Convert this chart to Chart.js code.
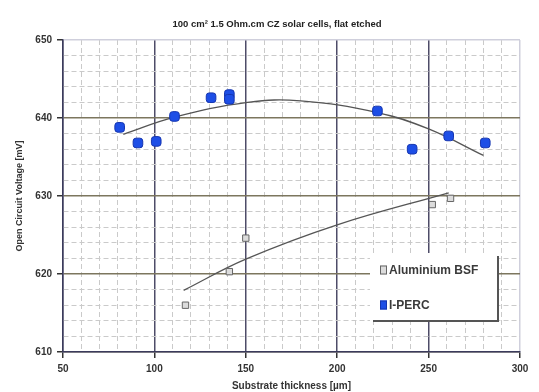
<!DOCTYPE html>
<html>
<head>
<meta charset="utf-8">
<script src="https://cdn.jsdelivr.net/npm/chart.js@4.4.1/dist/chart.umd.min.js"></script>
<style>
html,body{margin:0;padding:0;background:#fff;}
#wrap{width:539px;height:392px;}
</style>
</head>
<body>
<div id="wrap"><canvas id="vocChart" width="539" height="392"></canvas></div>
<script>
// measured cells
const percThickness = [81, 91, 101, 111, 131, 141, 141, 222, 241, 261, 281];
const percVoc = [638.8, 636.8, 637.0, 640.2, 642.6, 643.0, 642.4, 640.9, 636.0, 637.7, 636.8];
const bsfThickness = [117, 141, 150, 252, 262];
const bsfVoc = [616.0, 620.3, 624.6, 628.9, 629.7];
// trendlines
const percTrendX = [83, 111, 151, 180, 222, 250, 280];
const percTrendY = [637.9, 640.1, 642.0, 642.2, 640.7, 638.6, 635.2];
const bsfTrendX = [116, 150, 200, 261];
const bsfTrendY = [617.9, 621.9, 626.3, 630.4];
const xTicks = [50, 100, 150, 200, 250, 300];
const yTicks = [610, 620, 630, 640, 650];

const chartTitle = "100 cm\u00b2 1.5 Ohm.cm CZ solar cells, flat etched";

function pts(xs, ys){
    return xs.map((x,i)=>({x:x, y:ys[i]}));
}

const titlePlugin = {
    id:'titleText',
    afterDraw(chart){
        const ctx = chart.ctx;
        ctx.save();
        ctx.fillStyle = '#222';
        ctx.font = 'bold 9.5px "Liberation Sans", Arial, sans-serif';
        ctx.textAlign = 'center';
        ctx.textBaseline = 'middle';
        ctx.fillText(chartTitle, 277, 24);
        ctx.restore();
    }
};

// legend box sitting inside the plot, like the Excel one
const boxLegend = {
    id:'boxLegend',
    afterDraw(chart){
        const ctx = chart.ctx;
        const x0 = 370, y0 = 253, w = 128, h = 68;
        ctx.save();
        ctx.fillStyle = '#fff';
        ctx.fillRect(x0, y0, w, h);
        ctx.strokeStyle = '#555';
        ctx.lineWidth = 2;
        ctx.beginPath();
        ctx.moveTo(x0 + w, y0 + 3);
        ctx.lineTo(x0 + w, y0 + h);
        ctx.lineTo(x0 + 3, y0 + h);
        ctx.stroke();
        const items = chart.data.datasets.filter(d=>d.inLegend);
        const rows = [270, 305];
        ctx.font = 'bold 12px "Liberation Sans", Arial, sans-serif';
        ctx.textBaseline = 'middle';
        items.forEach((d,i)=>{
            const y = rows[i];
            ctx.fillStyle = d.backgroundColor;
            ctx.strokeStyle = d.borderColor;
            ctx.lineWidth = 1;
            ctx.fillRect(380, y - 4.5, 7, 9);
            ctx.strokeRect(380.5, y - 4, 6, 8);
            ctx.fillStyle = '#3a3a3a';
            ctx.fillText(d.label, 389, y + 0.5);
        });
        ctx.restore();
    }
};

const isMajor = (v, step) => Math.abs(v % step) < 1e-6;

const ctx = document.getElementById('vocChart').getContext('2d');
new Chart(ctx, {
    type:'scatter',
    data:{
        datasets:[
            {
                label:'Aluminium BSF',
                inLegend:true,
                data: pts(bsfThickness, bsfVoc),
                pointStyle:'rect',
                pointRadius:4.5,
                backgroundColor:'#dcdcdc',
                borderColor:'#666',
                borderWidth:1
            },
            {
                label:'I-PERC',
                inLegend:true,
                data: pts(percThickness, percVoc),
                pointStyle:'rectRounded',
                pointRadius:5.6,
                backgroundColor:'#1d4ee6',
                borderColor:'#1535b0',
                borderWidth:1
            },
            {
                label:'PERC trend',
                data: pts(percTrendX, percTrendY),
                showLine:true,
                pointRadius:0,
                borderColor:'#555',
                borderWidth:1.3,
                tension:0.4
            },
            {
                label:'BSF trend',
                data: pts(bsfTrendX, bsfTrendY),
                showLine:true,
                pointRadius:0,
                borderColor:'#555',
                borderWidth:1.3,
                tension:0.4
            }
        ]
    },
    options:{
        responsive:false,
        animation:false,
        layout:{ padding:{ left:0, right:19, top:40, bottom:0 } },
        plugins:{
            legend:{ display:false },
            tooltip:{ enabled:false }
        },
        scales:{
            x:{
                type:'linear',
                min:50, max:300,
                afterFit: s => { s.height = 40; },
                ticks:{
                    stepSize:10,
                    autoSkip:false,
                    maxRotation:0,
                    minRotation:0,
                    padding:5,
                    color:'#333',
                    font:{ family:'"Liberation Sans", Arial, sans-serif', size:10, weight:'bold' },
                    callback: v => xTicks.includes(v) ? v : ''
                },
                grid:{
                    tickLength:6,
                    color: c => c.tick && isMajor(c.tick.value, 50) ? (c.tick.value === 300 ? '#cfcfdc' : '#4e4c68') : '#cacaca',
                    lineWidth: c => c.tick && isMajor(c.tick.value, 50) ? 1.5 : 1,
                    tickColor: c => c.tick && isMajor(c.tick.value, 50) ? '#333' : 'rgba(0,0,0,0)'
                },
                border:{
                    color:'#3b3b5c',
                    width:1.5,
                    dash: c => c.tick && isMajor(c.tick.value, 50) ? [] : [5, 3]
                },
                title:{
                    display:true,
                    text:'Substrate thickness [\u00b5m]',
                    color:'#333',
                    padding:{ top:0, bottom:0 },
                    font:{ family:'"Liberation Sans", Arial, sans-serif', size:10, weight:'bold' }
                }
            },
            y:{
                min:610, max:650,
                afterFit: s => { s.width = 63; },
                ticks:{
                    stepSize:2,
                    autoSkip:false,
                    padding:5,
                    color:'#333',
                    font:{ family:'"Liberation Sans", Arial, sans-serif', size:10, weight:'bold' },
                    callback: v => yTicks.includes(v) ? v : ''
                },
                grid:{
                    tickLength:6,
                    color: c => c.tick && isMajor(c.tick.value, 10) ? (c.tick.value === 650 ? '#cfcfdc' : '#7c765e') : '#cacaca',
                    lineWidth: c => c.tick && isMajor(c.tick.value, 10) ? 1.5 : 1,
                    tickColor: c => c.tick && isMajor(c.tick.value, 10) ? '#333' : 'rgba(0,0,0,0)'
                },
                border:{
                    color:'#3b3b5c',
                    width:1.5,
                    dash: c => c.tick && isMajor(c.tick.value, 10) ? [] : [5, 3]
                },
                title:{
                    display:true,
                    text:'Open Circuit Voltage [mV]',
                    color:'#333',
                    padding:{ top:14, bottom:0 },
                    font:{ family:'"Liberation Sans", Arial, sans-serif', size:9, weight:'bold' }
                }
            }
        }
    },
    plugins:[titlePlugin, boxLegend]
});
</script>
</body>
</html>
